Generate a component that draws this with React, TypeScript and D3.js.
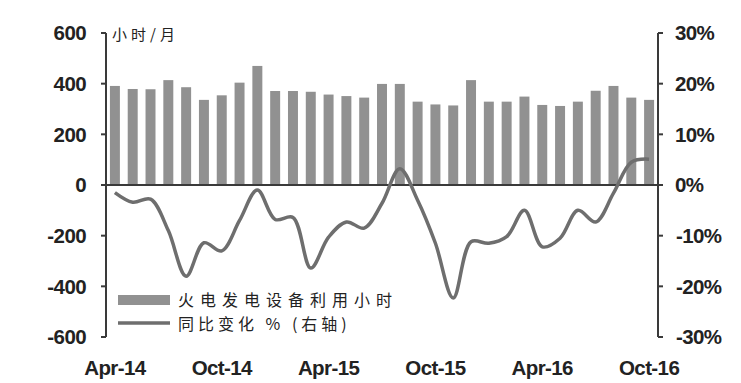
import { useRef, useEffect } from "react";
import * as d3 from "d3";

const months = [
  "Apr-14", "May-14", "Jun-14", "Jul-14", "Aug-14", "Sep-14", "Oct-14", "Nov-14", "Dec-14",
  "Jan-15", "Feb-15", "Mar-15", "Apr-15", "May-15", "Jun-15", "Jul-15", "Aug-15", "Sep-15",
  "Oct-15", "Nov-15", "Dec-15", "Jan-16", "Feb-16", "Mar-16", "Apr-16", "May-16", "Jun-16",
  "Jul-16", "Aug-16", "Sep-16", "Oct-16",
];
const hours = [
  391, 379, 378, 414, 386, 336, 354, 404, 470, 371, 371, 368, 357, 351, 345, 399, 399, 329,
  318, 314, 414, 329, 329, 349, 316, 312, 329, 372, 391, 345, 336,
];
const yoy = [
  -1.5, -3.4, -2.8, -9.0, -18.0, -11.4, -13.0, -7.0, -1.0, -6.8, -6.4, -16.4, -10.3, -7.3,
  -8.5, -3.6, 3.2, -3.0, -11.5, -22.3, -11.2, -11.5, -10.2, -5.0, -12.2, -10.5, -5.0, -7.3,
  -1.6, 4.5, 5.1,
];
const xTickLabels = ["Apr-14", "Oct-14", "Apr-15", "Oct-15", "Apr-16", "Oct-16"];
const leftTicks = [600, 400, 200, 0, -200, -400, -600];
const rightTicks = [30, 20, 10, 0, -10, -20, -30];
const barName = "火电发电设备利用小时";
const lineName = "同比变化 % (右轴)";
const unitLabel = "小时/月";

export default function App() {
  const svgRef = useRef(null);
  const width = 741;
  const height = 383;

  useEffect(() => {
    const svg = d3.select(svgRef.current);
    svg.selectAll("*").remove();

    const left = 106, right = 658, top = 33, bottom = 337;
    const font = "'Liberation Sans', Arial, sans-serif";
    const cjk = "'Noto Sans CJK SC', sans-serif";
    const fs = 20.5;

    const x = d3.scaleBand().domain(months).range([left, right]).paddingInner(0.44).paddingOuter(0.22);
    const y = d3.scaleLinear().domain([-600, 600]).range([bottom, top]);
    const y2 = d3.scaleLinear().domain([-30, 30]).range([bottom, top]);

    // bars
    svg
      .append("g")
      .selectAll("rect")
      .data(hours)
      .join("rect")
      .attr("x", (d, i) => x(months[i])!)
      .attr("width", x.bandwidth())
      .attr("y", (d) => y(d))
      .attr("height", (d) => y(0) - y(d))
      .attr("fill", "#919191");

    // zero line
    svg
      .append("line")
      .attr("x1", left)
      .attr("x2", right)
      .attr("y1", y(0))
      .attr("y2", y(0))
      .attr("stroke", "#3a3a3a")
      .attr("stroke-width", 2);

    // yoy line
    const line = d3
      .line<number>()
      .x((d, i) => x(months[i])! + x.bandwidth() / 2)
      .y((d) => y2(d))
      .curve(d3.curveCatmullRom.alpha(0.5));
    svg
      .append("path")
      .attr("d", line(yoy))
      .attr("fill", "none")
      .attr("stroke", "#6e6e6e")
      .attr("stroke-width", 3.5);

    // left axis
    const gl = svg.append("g");
    gl.append("line")
      .attr("x1", left).attr("x2", left)
      .attr("y1", top).attr("y2", bottom)
      .attr("stroke", "#3a3a3a").attr("stroke-width", 2);
    gl.selectAll("line.t")
      .data(leftTicks)
      .join("line")
      .attr("class", "t")
      .attr("x1", left - 5).attr("x2", left)
      .attr("y1", (d) => y(d)).attr("y2", (d) => y(d))
      .attr("stroke", "#3a3a3a").attr("stroke-width", 2);
    gl.selectAll("text")
      .data(leftTicks)
      .join("text")
      .attr("x", 86)
      .attr("y", (d) => y(d))
      .attr("dy", "0.35em")
      .attr("text-anchor", "end")
      .attr("font-family", font)
      .attr("font-weight", "bold")
      .attr("font-size", fs)
      .attr("letter-spacing", -0.6)
      .attr("fill", "#222")
      .text((d) => d);

    // right axis
    const gr = svg.append("g");
    gr.append("line")
      .attr("x1", right).attr("x2", right)
      .attr("y1", top).attr("y2", bottom)
      .attr("stroke", "#3a3a3a").attr("stroke-width", 2);
    gr.selectAll("line.t")
      .data(rightTicks)
      .join("line")
      .attr("class", "t")
      .attr("x1", right).attr("x2", right + 5)
      .attr("y1", (d) => y2(d)).attr("y2", (d) => y2(d))
      .attr("stroke", "#3a3a3a").attr("stroke-width", 2);
    gr.selectAll("text")
      .data(rightTicks)
      .join("text")
      .attr("x", (d) => (d < 0 ? 676 : 675))
      .attr("y", (d) => y2(d))
      .attr("dy", "0.35em")
      .attr("font-family", font)
      .attr("font-weight", "bold")
      .attr("font-size", fs)
      .attr("letter-spacing", -0.6)
      .attr("fill", "#222")
      .text((d) => d + "%");

    // x labels
    svg
      .append("g")
      .selectAll("text")
      .data(xTickLabels)
      .join("text")
      .attr("x", (d) => x(d)! + x.bandwidth() / 2)
      .attr("y", 368)
      .attr("dy", "0.35em")
      .attr("text-anchor", "middle")
      .attr("font-family", font)
      .attr("font-weight", "bold")
      .attr("font-size", fs)
      .attr("letter-spacing", -0.6)
      .attr("fill", "#222")
      .text((d) => d);

    // unit
    svg
      .append("text")
      .attr("x", 112)
      .attr("y", 35)
      .attr("dy", "0.35em")
      .attr("font-family", cjk)
      .attr("font-size", 15)
      .attr("letter-spacing", 4)
      .attr("fill", "#222")
      .text(unitLabel);

    // legend
    const lg = svg.append("g");
    lg.append("rect")
      .attr("x", 118).attr("y", 295).attr("width", 52).attr("height", 10)
      .attr("fill", "#919191");
    lg.append("line")
      .attr("x1", 118).attr("x2", 170).attr("y1", 323).attr("y2", 323)
      .attr("stroke", "#6e6e6e").attr("stroke-width", 3.5);
    lg.append("text")
      .attr("x", 178).attr("y", 300).attr("dy", "0.35em")
      .attr("font-family", cjk).attr("font-size", 16).attr("letter-spacing", 6)
      .attr("fill", "#222")
      .text(barName);
    lg.append("text")
      .attr("x", 178).attr("y", 324).attr("dy", "0.35em")
      .attr("font-family", cjk).attr("font-size", 16).attr("letter-spacing", 4)
      .attr("fill", "#222")
      .text(lineName);
  }, []);

  return (
    <div>
      <svg
        ref={svgRef}
        width={width}
        height={height}
        style={{ position: "absolute", left: 0, top: 0, background: "#fff" }}
      />
    </div>
  );
}
